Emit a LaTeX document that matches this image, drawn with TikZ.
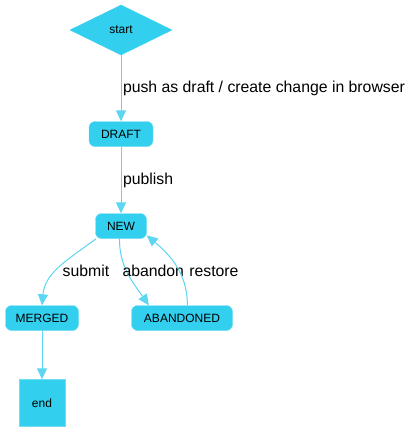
\documentclass[tikz,border=0pt]{standalone}
\usepackage{fontspec}
\setmainfont{Liberation Sans}
\usetikzlibrary{
  shapes.geometric,
  arrows.meta,
  positioning
}
\definecolor{StateCyan}{HTML}{33CFEE}
\definecolor{EdgeCyan}{HTML}{5CD6F1}
\tikzset{
  % State box: rounded, filled
  state/.style={
    rectangle, rounded corners=6pt,
    draw=StateCyan!70!white, fill=StateCyan,
    minimum height=25pt, inner xsep=8pt,
    font=\fontsize{12}{14}\selectfont
  },
  % Start diamond
  startdia/.style={
    diamond, aspect=2.0, inner sep=0pt,
    draw=StateCyan, fill=StateCyan,
    minimum width=102pt, minimum height=50pt,
    font=\fontsize{12}{14}\selectfont
  },
  % End square
  endbox/.style={
    rectangle, draw=StateCyan!70!white, fill=StateCyan,
    minimum width=46pt, minimum height=47pt,
    font=\fontsize{12}{14}\selectfont
  },
  % Arrow
  arr/.style={
    -{Triangle[length=11pt,width=10pt]},
    line width=1pt, color=EdgeCyan
  },
  % Edge label
  lbl/.style={font=\fontsize{15.8}{18}\selectfont, text=black, inner sep=1.5pt, anchor=west}
}
\begin{document}
\begin{tikzpicture}[x=1pt, y=-1pt]
  \useasboundingbox (0,0) rectangle (414,432);

  % States
  \node[startdia] (start) at (121,30) {start};
  \node[state, minimum width=64pt] (draft) at (121,134) {DRAFT};
  \node[state, minimum width=51pt] (new) at (121,226) {NEW};
  \node[state, minimum width=73pt] (merged) at (42,318) {MERGED};
  \node[state, minimum width=101pt] (abandoned) at (182,318) {ABANDONED};
  \node[endbox] (end) at (42,403) {end};

  % Transitions
  \draw[arr] (start) -- node[lbl]{push as draft / create change in browser} (draft);
  \draw[arr] (draft) -- node[lbl]{publish} (new);
  \draw[arr] (new.207) to[out=217, in=85]
    node[lbl, pos=0.56, xshift=4pt]{submit} (merged.north);
  \draw[arr] (new.263) to[out=270, in=125]
    node[lbl, pos=0.45, xshift=-6pt]{abandon} (abandoned.159);
  \draw[arr] (abandoned.67) to[out=90, in=-40]
    node[lbl, pos=0.42, xshift=8pt]{restore} (new.340);
  \draw[arr] (merged) -- (end);

\end{tikzpicture}
\end{document}
